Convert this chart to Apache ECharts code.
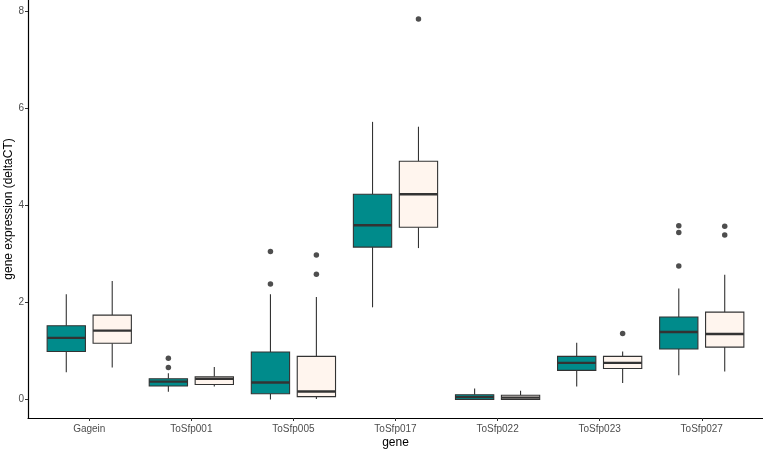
<!DOCTYPE html>
<html><head><meta charset="utf-8">
<script src="https://cdn.jsdelivr.net/npm/echarts@6/dist/echarts.min.js"></script>
<style>html,body{margin:0;padding:0;background:#fff}#c{width:763px;height:450px}</style>
</head><body><div id="c"></div>
<script>
// categories
const genes = ['Gagein','ToSfp001','ToSfp005','ToSfp017','ToSfp022','ToSfp023','ToSfp027'];
// box stats: [lowerWhisker, Q1, median, Q3, upperWhisker]
const tealStats = [
  [0.56, 0.99, 1.27, 1.52, 2.17],
  [0.16, 0.28, 0.37, 0.43, 0.54],
  [0.00, 0.12, 0.35, 0.98, 2.17],
  [1.90, 3.14, 3.59, 4.23, 5.72],
  [0.00, 0.00, 0.05, 0.10, 0.23],
  [0.27, 0.60, 0.755, 0.89, 1.17],
  [0.50, 1.04, 1.39, 1.70, 2.29]
];
const creamStats = [
  [0.66, 1.16, 1.42, 1.74, 2.44],
  [0.27, 0.31, 0.43, 0.47, 0.67],
  [0.01, 0.06, 0.165, 0.89, 2.11],
  [3.12, 3.55, 4.23, 4.91, 5.62],
  [0.00, 0.00, 0.04, 0.09, 0.18],
  [0.34, 0.64, 0.755, 0.89, 0.99],
  [0.58, 1.08, 1.35, 1.80, 2.57]
];
// outliers: [categoryIndex, value]
const tealOutliers = [[1,0.85],[1,0.66],[2,3.05],[2,2.38],[6,3.58],[6,3.44],[6,2.75]];
const creamOutliers = [[2,2.98],[2,2.58],[3,7.84],[5,1.36],[6,3.57],[6,3.39]];
const yTicks = [0,2,4,6,8];

const TEAL = '#008B8B', CREAM = '#FFF5EE', LINE = '#333333';
const DODGE = 0.225, BOXW = 0.375;

function boxSeries(stats, off, fill) {
  return {
    type: 'custom',
    data: stats.map((s, i) => [i + 1 + off].concat(s)),
    encode: {x: 0, y: [1,2,3,4,5]},
    renderItem: function (params, api) {
      const x = api.value(0);
      const lo = api.coord([x, api.value(1)]);
      const q1 = api.coord([x, api.value(2)]);
      const md = api.coord([x, api.value(3)]);
      const q3 = api.coord([x, api.value(4)]);
      const hi = api.coord([x, api.value(5)]);
      const w = api.size([BOXW, 0])[0];
      const cx = lo[0];
      return {
        type: 'group',
        children: [
          {type: 'line', shape: {x1: cx, y1: hi[1], x2: cx, y2: q3[1]}, style: {stroke: LINE, lineWidth: 1.1}},
          {type: 'line', shape: {x1: cx, y1: q1[1], x2: cx, y2: lo[1]}, style: {stroke: LINE, lineWidth: 1.1}},
          {type: 'rect', shape: {x: cx - w/2, y: q3[1], width: w, height: Math.max(q1[1] - q3[1], 0.5)},
            style: {fill: fill, stroke: LINE, lineWidth: 1.1}},
          {type: 'line', shape: {x1: cx - w/2, y1: md[1], x2: cx + w/2, y2: md[1]}, style: {stroke: LINE, lineWidth: 2.4}}
        ]
      };
    },
    z: 2
  };
}
function outlierSeries(list, off) {
  return {
    type: 'scatter',
    data: list.map(o => [o[0] + 1 + off, o[1]]),
    symbol: 'circle', symbolSize: 5.5,
    itemStyle: {color: '#222222'},
    z: 3
  };
}

const chart = echarts.init(document.getElementById('c'), null, {renderer: 'canvas'});
chart.setOption({
  animation: false,
  backgroundColor: '#ffffff',
  textStyle: {fontFamily: 'Liberation Sans, Arial, sans-serif'},
  grid: {left: 28, right: 0, top: 0, bottom: 32, containLabel: false, outerBoundsMode: 'none'},
  xAxis: {
    type: 'value', min: 0.4, max: 7.6,
    name: 'gene', nameLocation: 'middle', nameGap: 19, nameMoveOverlap: false,
    nameTextStyle: {color: '#000', fontSize: 12},
    axisLine: {show: true, onZero: false, lineStyle: {color: '#000', width: 1.2}},
    axisTick: {show: true, length: 3, lineStyle: {color: '#333'}, customValues: genes.map((g, i) => i + 1)},
    axisLabel: {color: '#4D4D4D', fontSize: 10, margin: 6,
      customValues: genes.map((g, i) => i + 1),
      formatter: v => genes[Math.round(v) - 1] || ''},
    splitLine: {show: false}
  },
  yAxis: {
    type: 'value', min: -0.38, max: 8.23,
    name: 'gene expression (deltaCT)', nameLocation: 'middle', nameGap: 13, nameMoveOverlap: false,
    nameTextStyle: {color: '#000', fontSize: 12},
    axisLine: {show: true, onZero: false, lineStyle: {color: '#000', width: 1.2}},
    axisTick: {show: true, length: 3, lineStyle: {color: '#333'}, customValues: yTicks},
    axisLabel: {color: '#4D4D4D', fontSize: 10, margin: 4, customValues: yTicks},
    splitLine: {show: false}
  },
  series: [
    boxSeries(tealStats, -DODGE, TEAL),
    boxSeries(creamStats, DODGE, CREAM),
    outlierSeries(tealOutliers, -DODGE),
    outlierSeries(creamOutliers, DODGE)
  ]
});
</script>
</body></html>
